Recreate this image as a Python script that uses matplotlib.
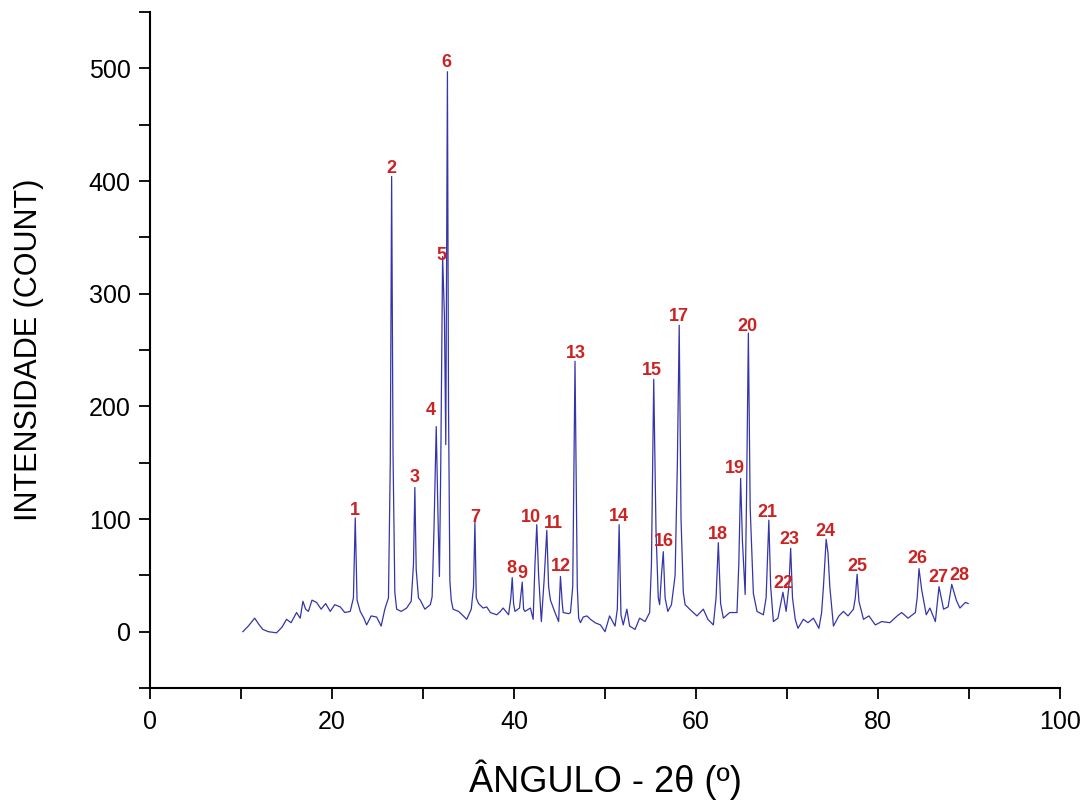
import matplotlib
matplotlib.use("Agg")
import matplotlib.pyplot as plt
from matplotlib.ticker import MultipleLocator

# diffractogram: 2theta (deg) and intensity (count)
angle = [
    10.2, 10.8, 11.5, 12.0, 12.4, 13.0, 13.9, 14.5, 15.0, 15.5, 16.1, 16.5, 16.8, 17.1,
    17.4, 17.8, 18.3, 18.8, 19.3, 19.8, 20.3, 20.9, 21.4, 22.0, 22.35, 22.55, 22.75,
    23.1, 23.5, 23.8, 24.3, 24.9, 25.4, 25.8, 26.2, 26.4, 26.55, 26.7, 26.9, 27.1,
    27.6, 28.2, 28.7, 28.95, 29.1, 29.25, 29.5, 29.7, 30.2, 30.8, 31.0, 31.2, 31.45,
    31.65, 31.8, 31.95, 32.15, 32.35, 32.5, 32.68, 32.8, 32.95, 33.1, 33.3, 33.9,
    34.3, 34.8, 35.3, 35.55, 35.7, 35.85, 36.1, 36.6, 37.0, 37.4, 38.1, 38.5, 38.8,
    39.4, 39.65, 39.8, 39.95, 40.1, 40.6, 40.9, 41.05, 41.2, 41.8, 42.1, 42.3, 42.5,
    42.7, 43.0, 43.3, 43.6, 43.8, 44.0, 44.5, 44.9, 45.1, 45.3, 45.4, 46.0, 46.2,
    46.45, 46.7, 46.95, 47.1, 47.3, 47.6, 48.0, 48.4, 48.9, 49.5, 50.0, 50.5, 51.1,
    51.35, 51.55, 51.75, 52.0, 52.4, 52.7, 53.3, 53.8, 54.4, 54.9, 55.1, 55.35, 55.6,
    55.85, 56.0, 56.2, 56.4, 56.6, 56.9, 57.3, 57.7, 57.95, 58.15, 58.35, 58.6, 58.8,
    59.3, 60.1, 60.8, 61.3, 61.9, 62.2, 62.45, 62.7, 63.0, 63.7, 64.5, 64.7, 64.9,
    65.1, 65.4, 65.55, 65.75, 65.95, 66.3, 66.7, 67.4, 67.7, 68.0, 68.2, 68.5, 69.0,
    69.55, 69.9, 70.2, 70.4, 70.6, 70.9, 71.2, 71.8, 72.3, 72.9, 73.5, 73.8, 74.0,
    74.3, 74.5, 74.7, 75.1, 75.7, 76.2, 76.7, 77.3, 77.5, 77.7, 77.9, 78.4, 79.0,
    79.7, 80.4, 81.3, 82.1, 82.6, 83.3, 84.1, 84.3, 84.5, 84.8, 85.3, 85.7, 86.3,
    86.7, 87.2, 87.7, 88.1, 88.6, 89.0, 89.6, 89.9,
]
intensity = [
    0, 5, 12, 6, 2, 0, -1, 4, 11, 8, 17, 12, 27, 20,
    18, 28, 26, 20, 25, 18, 24, 22, 17, 18, 30, 101, 28,
    18, 12, 6, 14, 13, 5, 20, 30, 150, 404, 160, 35, 20,
    18, 21, 27, 60, 128, 55, 30, 28, 20, 24, 31, 90, 182,
    100, 49, 150, 333, 280, 166, 497, 200, 45, 28, 20, 18,
    15, 11, 20, 40, 97, 30, 25, 21, 22, 17, 15, 18, 21,
    15, 30, 48, 25, 18, 21, 44, 20, 18, 21, 11, 60, 95,
    50, 9, 45, 90, 40, 28, 17, 9, 49, 25, 17, 16, 17,
    40, 240, 40, 12, 8, 13, 14, 11, 8, 6, 0, 14, 5,
    20, 95, 15, 6, 20, 5, 2, 12, 9, 17, 60, 224, 90,
    30, 24, 50, 71, 30, 18, 24, 50, 150, 272, 100, 35, 24,
    20, 14, 20, 11, 6, 30, 79, 25, 12, 17, 17, 60, 136,
    80, 33, 120, 265, 110, 34, 18, 15, 30, 99, 40, 9, 12,
    35, 18, 40, 74, 30, 11, 3, 11, 8, 12, 3, 17, 40,
    82, 70, 40, 5, 14, 18, 14, 20, 30, 51, 27, 11, 14,
    6, 9, 8, 14, 17, 12, 17, 30, 56, 37, 15, 21, 9,
    40, 20, 22, 42, 28, 21, 26, 25,
]

# peak numbers and where their labels sit
peak_ids = [str(i) for i in range(1, 29)]
label_x = [22.5, 26.5, 29.1, 30.9, 32.0, 32.6, 35.7, 39.7, 40.9, 41.9, 44.3, 45.1, 46.8, 51.5,
           55.1, 56.5, 58.1, 62.4, 64.3, 65.7, 67.8, 69.6, 70.3, 74.2, 77.7, 84.3, 86.6, 88.9]
label_y = [108, 411, 137, 196, 334, 505, 101, 56, 52, 101, 96, 58, 247, 102,
           232, 80, 280, 86, 145, 271, 106, 43, 82, 89, 58, 65, 48, 50]

sans = ["Liberation Sans", "DejaVu Sans"]

fig = plt.figure(figsize=(10.88, 8.05), dpi=100)
ax = fig.add_axes([0.1379, 0.1453, 0.8364, 0.8398])

ax.plot(angle, intensity, color="#3535aa", lw=0.9)

for pid, px, py in zip(peak_ids, label_x, label_y):
    ax.text(px, py, pid, color="#cc2222", fontsize=13, fontweight="bold",
            family=sans, ha="center", va="center")

ax.set_xlim(0, 100)
ax.set_ylim(-50, 550)
ax.xaxis.set_major_locator(MultipleLocator(20))
ax.xaxis.set_minor_locator(MultipleLocator(10))
ax.yaxis.set_major_locator(MultipleLocator(100))
ax.yaxis.set_minor_locator(MultipleLocator(50))
ax.tick_params(which="both", direction="out", length=8, width=1.3, color="black")
ax.tick_params(axis="y", which="major", pad=6)
ax.tick_params(axis="x", which="major", pad=8)

for lab in ax.get_xticklabels():
    lab.set_family(sans)
    lab.set_fontsize(18)
for lab in ax.get_yticklabels():
    lab.set_family(sans)
    lab.set_fontsize(18)

for side in ["top", "right"]:
    ax.spines[side].set_visible(False)
for side in ["left", "bottom"]:
    ax.spines[side].set_linewidth(1.5)

ax.set_xlabel("ÂNGULO - 2θ (º)", family=sans, fontsize=26, labelpad=18)
ax.set_ylabel("INTENSIDADE (COUNT)", family=sans, fontsize=22, labelpad=32)

fig.savefig("out.png", dpi=100)
